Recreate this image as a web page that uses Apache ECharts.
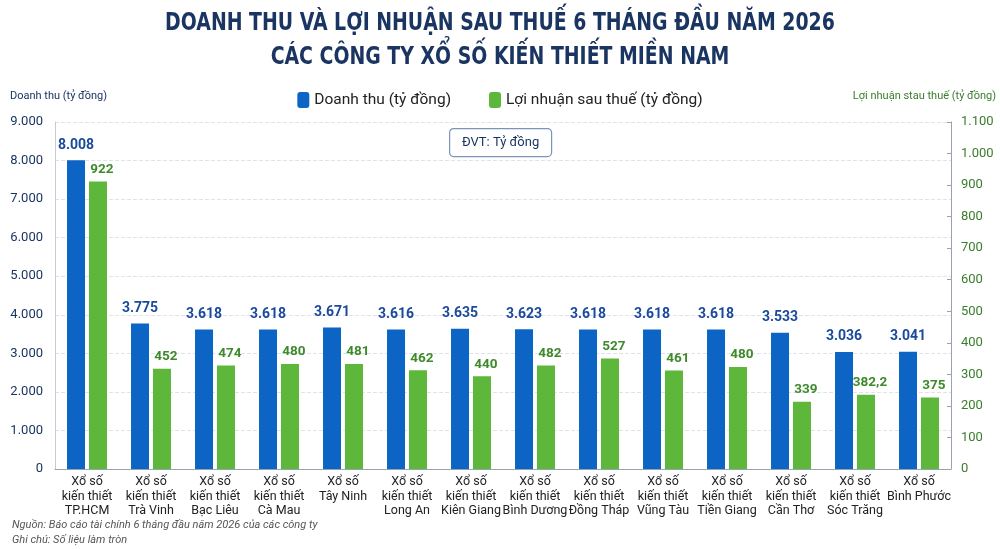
<!DOCTYPE html>
<html>
<head>
<meta charset="utf-8">
<script src="https://cdn.jsdelivr.net/npm/echarts@6/dist/echarts.min.js"></script>
<style>
  html, body { margin: 0; padding: 0; background: #fff; }
  #chart-container { width: 1000px; height: 549px; }
</style>
</head>
<body>
<div id="chart-container"></div>
<script>
const companies = [
  "Xổ số\nkiến thiết\nTP.HCM",
  "Xổ số\nkiến thiết\nTrà Vinh",
  "Xổ số\nkiến thiết\nBạc Liêu",
  "Xổ số\nkiến thiết\nCà Mau",
  "Xổ số\nTây Ninh",
  "Xổ số\nkiến thiết\nLong An",
  "Xổ số\nkiến thiết\nKiên Giang",
  "Xổ số\nkiến thiết\nBình Dương",
  "Xổ số\nkiến thiết\nĐồng Tháp",
  "Xổ số\nkiến thiết\nVũng Tàu",
  "Xổ số\nkiến thiết\nTiền Giang",
  "Xổ số\nkiến thiết\nCần Thơ",
  "Xổ số\nkiến thiết\nSóc Trăng",
  "Xổ số\nBình Phước",
];
// Doanh thu (tỷ đồng)
const revenue = [8008, 3775, 3618, 3618, 3671, 3616, 3635, 3623, 3618, 3618, 3618, 3533, 3036, 3041];
// Lợi nhuận: printed labels, and bar heights as drawn on the right axis
const profitLabels = ["922", "452", "474", "480", "481", "462", "440", "482", "527", "461", "480", "339", "382,2", "375"];
const profitBars = [911, 318, 328, 333, 333, 313, 294, 328, 350, 312, 323, 213, 235, 227];

(() => {
  const dom = document.getElementById("chart-container");
  const chart = echarts.init(dom, null, { renderer: "canvas" });
  const dots = (n) => String(n).replace(/\B(?=(\d{3})+(?!\d))/g, ".");
  const navy = "#1b3562";
  const blue = "#0c64c5";
  const green = "#5cb73a";
  const font = "Roboto";
  const titleFont = "bold 25px 'DejaVu Sans Condensed'";

  const option = {
    backgroundColor: "#fff",
    textStyle: { fontFamily: font },
    graphic: [
      {
        type: "text", x: 500, y: 11, scaleX: 0.84,
        style: {
          text: "DOANH THU VÀ LỢI NHUẬN SAU THUẾ 6 THÁNG ĐẦU NĂM 2026",
          fill: navy, font: titleFont, align: "center",
        },
      },
      {
        type: "text", x: 500, y: 45, scaleX: 0.84,
        style: {
          text: "CÁC CÔNG TY XỔ SỐ KIẾN THIẾT MIỀN NAM",
          fill: navy, font: titleFont, align: "center",
        },
      },
      {
        type: "text", left: 10, top: 91,
        style: { text: "Doanh thu (tỷ đồng)", fill: navy, font: "11px Roboto" },
      },
      {
        type: "text", right: 4, top: 91,
        style: { text: "Lợi nhuận stau thuế (tỷ đồng)", fill: "#3a7d2c", font: "11px Roboto" },
      },
      {
        type: "group", left: 449, top: 128,
        children: [
          {
            type: "rect", shape: { x: 0, y: 0, width: 102, height: 28, r: 4 },
            style: { fill: "#fff", stroke: "#7d93b8", lineWidth: 1.2 },
          },
          {
            type: "text", x: 51, y: 14,
            style: { text: "ĐVT: Tỷ đồng", fill: navy, font: "13px Roboto", align: "center", verticalAlign: "middle" },
          },
        ],
      },
      {
        type: "text", left: 12, top: 520,
        style: { text: "Nguồn: Báo cáo tài chính 6 tháng đầu năm 2026 của các công ty", fill: "#555", font: "italic 11px Roboto" },
      },
      {
        type: "text", left: 12, top: 535,
        style: { text: "Ghi chú: Số liệu làm tròn", fill: "#555", font: "italic 11px Roboto" },
      },
    ],
    legend: {
      top: 87,
      left: "center",
      itemWidth: 12,
      itemHeight: 16,
      itemGap: 38,
      textStyle: { fontSize: 15.5, color: "#222", fontFamily: font },
      data: ["Doanh thu (tỷ đồng)", "Lợi nhuận sau thuế (tỷ đồng)"],
    },
    grid: { left: 55, right: 49, top: 122, bottom: 80 },
    xAxis: {
      type: "category",
      data: companies,
      axisTick: { show: false },
      axisLine: { lineStyle: { color: "#9aa3ad" } },
      axisLabel: { color: "#222", fontSize: 12.5, lineHeight: 14.5, margin: 6, interval: 0, fontFamily: font },
    },
    yAxis: [
      {
        type: "value",
        min: 0, max: 9000, interval: 1000,
        axisLine: { show: true, lineStyle: { color: "#c5cbd3" } },
        axisTick: { show: false },
        axisLabel: { color: navy, fontSize: 13, formatter: (v) => dots(v), margin: 12 },
        splitLine: { lineStyle: { color: "#dfe3e8", type: "dashed" } },
      },
      {
        type: "value",
        min: 0, max: 1100, interval: 100,
        axisLine: { show: true, lineStyle: { color: "#9aa3ad" } },
        axisTick: { show: true, inside: true, length: 4, lineStyle: { color: "#9aa3ad" } },
        axisLabel: { color: "#3a7d2c", fontSize: 13, formatter: (v) => dots(v), margin: 10 },
        splitLine: { show: false },
      },
    ],
    series: [
      {
        name: "Doanh thu (tỷ đồng)",
        type: "bar",
        yAxisIndex: 0,
        color: blue,
        barWidth: 18,
        barGap: "22%",
        data: revenue,
        label: {
          show: true, position: "top", distance: 8,
          color: "#1a4a9c", fontSize: 14, fontWeight: "bold",
          formatter: (p) => dots(p.value),
        },
      },
      {
        name: "Lợi nhuận sau thuế (tỷ đồng)",
        type: "bar",
        yAxisIndex: 1,
        z: 3,
        color: green,
        barWidth: 18,
        data: profitBars,
        label: {
          show: true, position: "top", distance: 5, offset: [4, 0],
          color: "#3e8a2c", fontSize: 13.5, fontWeight: "bold",
          formatter: (p) => profitLabels[p.dataIndex],
        },
      },
    ],
  };

  chart.setOption(option);
  window.addEventListener("resize", chart.resize);
})();
</script>
</body>
</html>
